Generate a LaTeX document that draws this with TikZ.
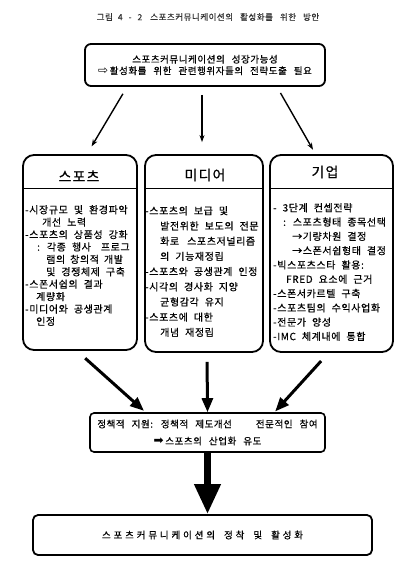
\documentclass[tikz,border=0pt]{standalone}
\usepackage{fontspec}
\setmainfont{Noto Sans CJK KR}[LetterSpace=6,FakeBold=0.5]
\newfontfamily\symfont{DejaVu Sans}
\newfontfamily\headfont{Noto Sans CJK KR}[LetterSpace=8,FakeBold=0.5]
\newfontfamily\widefont{Noto Sans CJK KR}[LetterSpace=30,FakeBold=0.5]
\usetikzlibrary{arrows.meta}

\begin{document}
\begin{tikzpicture}[
    x=1pt, y=-1pt,
    %% ── Node styles ─────────────────────────────────────────────
    titletxt/.style={inner sep=0pt, text=black!80,
                     font={\fontsize{8.5}{12}\selectfont\spaceskip=7pt\relax}},
    topbox/.style  ={draw, line width=1.8pt, rounded corners=6pt,
                     minimum width=240pt, minimum height=42pt, align=center, inner sep=0pt,
                     font={\fontsize{9.5}{11.5}\selectfont\spaceskip=7pt\relax}},
    colbox/.style  ={draw, line width=1.8pt, rounded corners=11pt, inner sep=0pt},
    colhead/.style ={inner sep=0pt, font=\headfont\fontsize{14}{16}\selectfont},
    coltext/.style ={anchor=north west, inner sep=0pt, align=left},
    polbox/.style  ={draw, line width=1.6pt, rounded corners=4pt,
                     minimum width=235pt, minimum height=39pt, align=center, inner sep=0pt,
                     font={\fontsize{9.5}{17}\selectfont\spaceskip=7pt\relax}},
    endbox/.style  ={draw, line width=1.8pt, rounded corners=5pt,
                     minimum width=339pt, minimum height=40pt, inner sep=0pt,
                     font={\widefont\fontsize{9.5}{12}\selectfont\spaceskip=9pt\relax}},
    sepline/.style ={line width=0.8pt},
    thinarr/.style ={-{Stealth[length=7pt,width=5pt]}, line width=1.4pt},
    thickarr/.style={-{Triangle[length=14pt,width=11pt]}, line width=3pt},
    bigarr/.style  ={-{Triangle[length=30pt,width=25pt]}, line width=7pt}
]
    \useasboundingbox (0,0) rectangle (409,575);

    %% ── Title and top box ──────────────────────────────────────
    \node[titletxt] (title) at (208,17)
        {그림\hspace{5pt}4\hspace{6pt}-\hspace{6pt}2\hspace{8pt}스포츠커뮤니케이션의 활성화를 위한 방안};
    \node[topbox]   (growth) at (205,65) {스포츠커뮤니케이션의 성장가능성\\
                                         {\symfont\fontsize{12}{12}\selectfont ⇨}\,활성화를 위한 관련행위자들의 전략도출 필요};

    %% ── Three columns ──────────────────────────────────────────
    \node[colbox, minimum width=114pt, minimum height=195pt] (sports) at (80,252.5)  {};
    \node[colbox, minimum width=118pt, minimum height=197pt] (media)  at (204,253.5) {};
    \node[colbox, minimum width=123pt, minimum height=197pt] (corp)   at (331.5,253.5) {};

    \node[colhead] (sportsHead) at (79,176)  {스포츠};
    \node[colhead] (mediaHead)  at (205,175) {미디어};
    \node[colhead] (corpHead)   at (325,172) {기업};

    \draw[sepline] ([yshift=-34pt]sports.north west) -- ([yshift=-34pt]sports.north east);
    \draw[sepline] ([yshift=-34pt]media.north west)  -- ([yshift=-34pt]media.north east);
    \draw[sepline] ([yshift=-34pt]corp.north west)   -- ([yshift=-34pt]corp.north east);

    \node[coltext, font={\fontsize{10}{12.4}\selectfont\spaceskip=6pt\relax}] (sportsText) at (25,205) {%
        -시장규모 및 환경파악\\
        \hspace*{17pt}개선 노력\\
        -스포츠의 상품성 강화\\
        \hspace*{12pt}: 각종 행사\hspace{10pt}프로그\\
        \hspace*{21pt}램의\hspace{5pt}창의적\hspace{5pt}개발\\
        \hspace*{21pt}및 경쟁체제 구축\\
        -스폰서쉽의 결과\\
        \hspace*{11pt}계량화\\
        -미디어와 공생관계\\
        \hspace*{11pt}인정};
    \node[coltext, font={\fontsize{10}{15.2}\selectfont\spaceskip=6pt\relax}] (mediaText) at (145,206) {%
        -스포츠의 보급 및\\
        \hspace*{15pt}발전위한 보도의 전문\\
        \hspace*{15pt}화로\hspace{8pt}스포츠저널리즘\\
        \hspace*{15pt}의 기능재정립\\
        -스포츠와 공생관계 인정\\
        -시각의 경사화 지양\\
        \hspace*{15pt}균형감각 유지\\
        -스포츠에 대한\\
        \hspace*{15pt}개념 재정립};
    \node[coltext, font={\fontsize{10}{14.3}\selectfont\spaceskip=6pt\relax}] (corpText) at (273,203) {%
        - 3단계 컨셉전략\\
        \hspace*{10pt}: 스포츠형태 종목선택\\
        \hspace*{19pt}→기량차원 결정\\
        \hspace*{19pt}→스폰서쉽형태 결정\\
        -빅스포츠스타 활용:\\
        \hspace*{13pt}FRED 요소에 근거\\
        -스폰서카르텔 구축\\
        -스포츠팀의 수익사업화\\
        -전문가 양성\\
        -IMC 체계내에 통합};

    %% ── Policy and result boxes ────────────────────────────────
    \node[polbox] (policy) at (207.5,432.5) {정책적 지원: 정책적 제도개선\hspace{24pt}전문적인 참여\\
                                            {\symfont\fontsize{12}{12}\selectfont ➡}\,스포츠의 산업화 유도};
    \node[endbox] (result) at (202.5,535) {스포츠커뮤니케이션의 정착 및 활성화};

    %% ── Arrows ─────────────────────────────────────────────────
    \draw[thinarr, shorten <=8pt, shorten >=9pt]  ([xshift=-78pt]growth.south) -- ([xshift=7pt]sports.north);
    \draw[thinarr, shorten <=8pt, shorten >=12pt] ([xshift=-3pt]growth.south)  -- ([xshift=-2pt]media.north);
    \draw[thinarr, shorten <=7pt, shorten >=5pt]  ([xshift=72pt]growth.south)  -- ([xshift=-16pt]corp.north);

    \draw[thickarr, shorten <=11pt, shorten >=2pt] ([xshift=-3pt]sports.south) -- ([xshift=-62pt]policy.north);
    \draw[thickarr, shorten <=9pt]                 ([xshift=3pt]media.south)   -- (policy.north);
    \draw[thickarr, shorten <=11pt, shorten >=1pt] ([xshift=-3pt]corp.south)   -- ([xshift=67pt]policy.north);

    \draw[bigarr] (policy.south) -- (policy.south |- result.north);

\end{tikzpicture}
\end{document}
